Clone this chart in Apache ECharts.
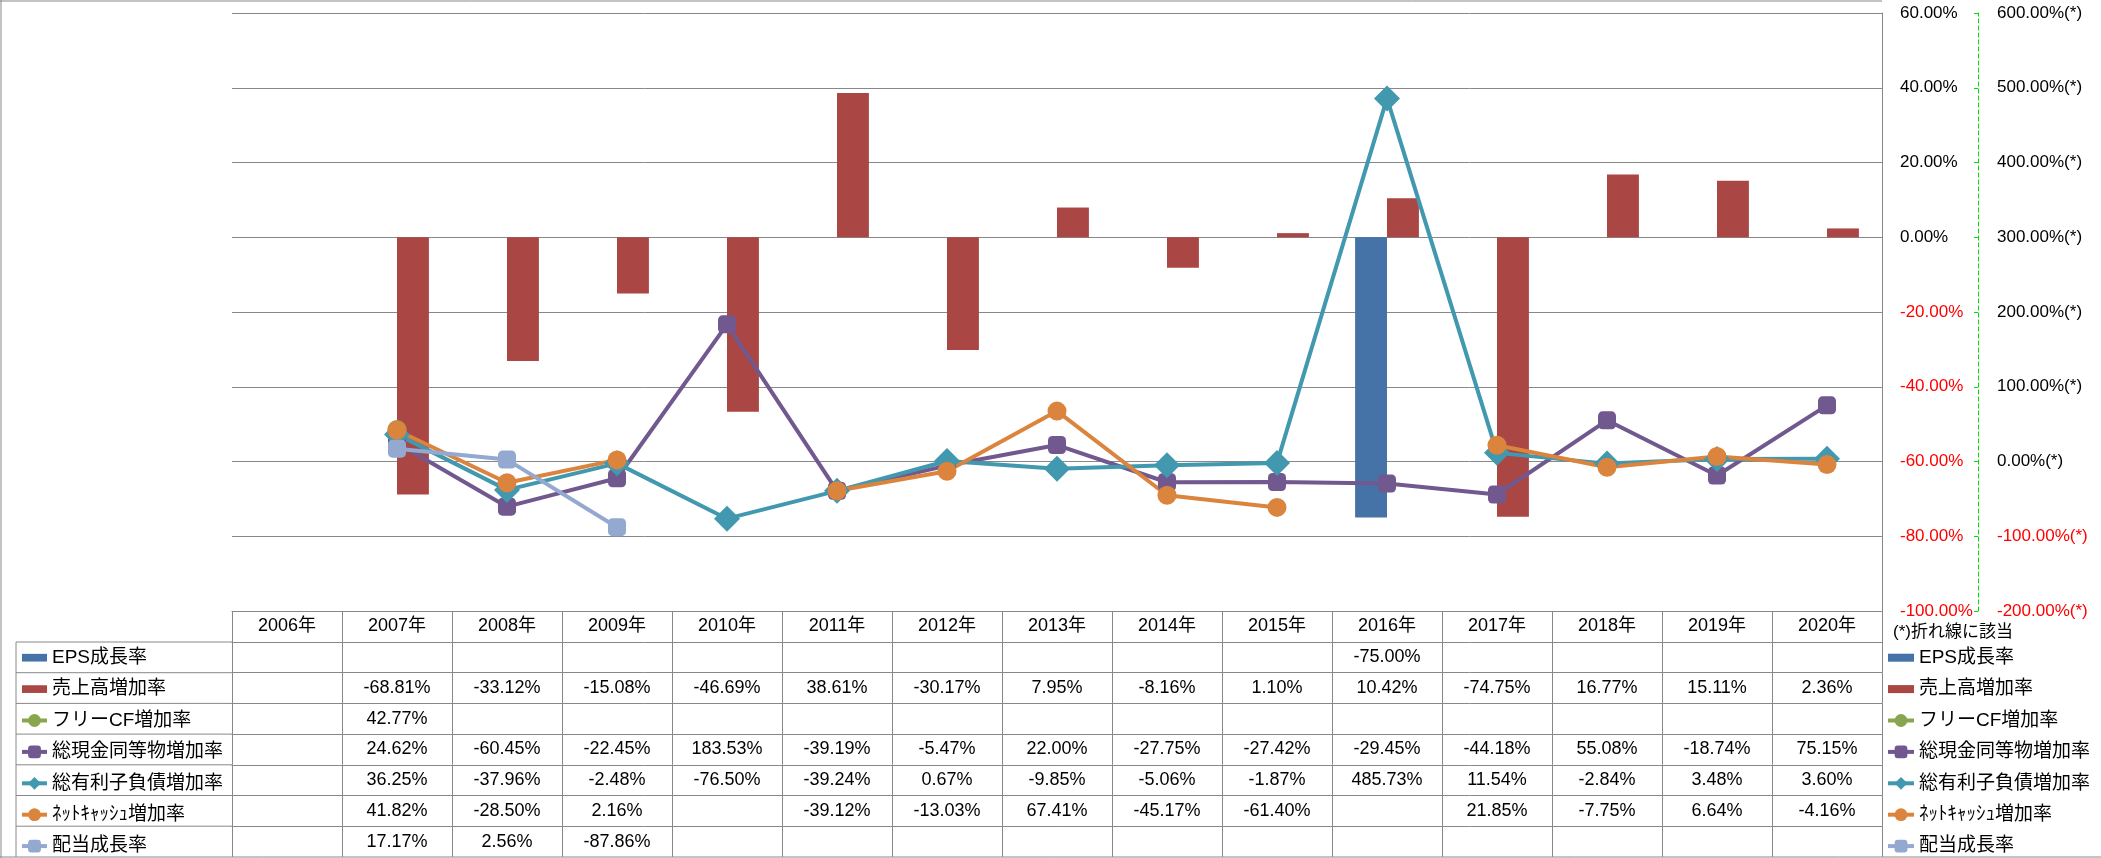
<!DOCTYPE html>
<html><head><meta charset="utf-8">
<script src="https://cdn.jsdelivr.net/npm/echarts@6/dist/echarts.min.js"></script>
<style>html,body{margin:0;padding:0;background:#fff}#c{width:2101px;height:858px}</style>
</head><body><div id="c"></div>
<script>
// ---- data ----
const years = ['2006年','2007年','2008年','2009年','2010年','2011年','2012年','2013年','2014年','2015年','2016年','2017年','2018年','2019年','2020年'];
const seriesNames = ['EPS成長率','売上高増加率','フリーCF増加率','総現金同等物増加率','総有利子負債増加率','ﾈｯﾄｷｬｯｼｭ増加率','配当成長率'];
const epsGrowth      = [null,null,null,null,null,null,null,null,null,null,-75.00,null,null,null,null];
const salesGrowth    = [null,-68.81,-33.12,-15.08,-46.69,38.61,-30.17,7.95,-8.16,1.10,10.42,-74.75,16.77,15.11,2.36];
const freeCfGrowth   = [null,42.77,null,null,null,null,null,null,null,null,null,null,null,null,null];
const cashGrowth     = [null,24.62,-60.45,-22.45,183.53,-39.19,-5.47,22.00,-27.75,-27.42,-29.45,-44.18,55.08,-18.74,75.15];
const debtGrowth     = [null,36.25,-37.96,-2.48,-76.50,-39.24,0.67,-9.85,-5.06,-1.87,485.73,11.54,-2.84,3.48,3.60];
const netCashGrowth  = [null,41.82,-28.50,2.16,null,-39.12,-13.03,67.41,-45.17,-61.40,null,21.85,-7.75,6.64,-4.16];
const dividendGrowth = [null,17.17,2.56,-87.86,null,null,null,null,null,null,null,null,null,null,null];
const leftAxisTicks  = {min:-100, max:60, interval:20};
const rightAxisTicks = {min:-200, max:600, interval:100};
const noteText = '(*)折れ線に該当';

// ---- styling ----
const FONT = "'Liberation Sans','Noto Sans CJK JP',sans-serif";
const colors = ['#4572A7','#AA4643','#89A54E','#71588F','#4198AF','#DB843D','#93A9CF'];
const symbols = [null,null,'circle','roundRect','diamond','circle','roundRect'];
const symbolSizes = [0,0,19,18,26,19,18];
const GRAY = '#888888';
const PLOT_L = 232, PLOT_R = 1882, PLOT_T = 13, PLOT_B = 611;
const HDR_H = 31, ROW_H = 30.7;
const rows = [epsGrowth, salesGrowth, freeCfGrowth, cashGrowth, debtGrowth, netCashGrowth, dividendGrowth];
const fmt = v => v == null ? '' : v.toFixed(2) + '%';

const xAxes = [{
  type:'category', data: years, position:'bottom', offset:0, boundaryGap:true,
  axisLine:{show:true, onZero:false, lineStyle:{color:GRAY, width:1}},
  axisTick:{show:true, interval:0, length:HDR_H, lineStyle:{color:GRAY, width:1}},
  axisLabel:{interval:0, margin:HDR_H/2, verticalAlign:'middle', fontSize:18, color:'#000', fontFamily:FONT},
  splitLine:{show:false}
}];
rows.forEach((r, i) => {
  xAxes.push({
    type:'category', data: r.map(fmt), position:'bottom', offset: HDR_H + i*ROW_H, boundaryGap:true,
    axisLine:{show:true, onZero:false, lineStyle:{color:GRAY, width:1}},
    axisTick:{show:true, interval:0, length:ROW_H, lineStyle:{color:GRAY, width:1}},
    axisLabel:{interval:0, margin:ROW_H/2, verticalAlign:'middle', fontSize:18, color:'#000', fontFamily:FONT},
    splitLine:{show:false}
  });
});

const series = rows.map((r, i) => {
  if (i < 2) {
    return {name: seriesNames[i], type:'bar', yAxisIndex:0, xAxisIndex:0, data:r,
      barGap:'0%', barCategoryGap:'42%', itemStyle:{color:colors[i]}};
  }
  return {name: seriesNames[i], type:'line', yAxisIndex:1, xAxisIndex:0, data:r,
    symbol:symbols[i], symbolSize:symbolSizes[i], showAllSymbol:true, connectNulls:false,
    lineStyle:{width:4, color:colors[i]}, itemStyle:{color:colors[i]}};
});

const barIcon = 'path://M0,0M0,4H26V12H0ZM26,16';
const legendData = seriesNames.map((n, i) => i < 2 ? {name:n, icon:barIcon} : {name:n});
const firstRowTop = PLOT_B + HDR_H;
const legendBase = {
  orient:'vertical', itemHeight:16, itemGap: ROW_H - 18.3, data: legendData, selectedMode:false,
  top: firstRowTop + ROW_H/2 - 9.15, height: 260, padding:0,
  lineStyle:{width:4},
  textStyle:{fontSize:19, fontFamily:FONT, color:'#000', lineHeight:14}
};

const graphicLines = [];
const addLine = (x1,y1,x2,y2) => graphicLines.push({type:'line', shape:{x1,y1,x2,y2}, style:{stroke:GRAY, lineWidth:1}, silent:true});
addLine(0,1,PLOT_R,1);
addLine(1,0,1,858);
addLine(0,857,2101,857);
addLine(16, firstRowTop, 16, 857);
for (let i = 0; i < rows.length; i++) addLine(16, firstRowTop + i*ROW_H, PLOT_L, firstRowTop + i*ROW_H);

const chart = echarts.init(document.getElementById('c'), null, {renderer:'canvas'});
chart.setOption({
  animation:false,
  backgroundColor:'#fff',
  textStyle:{fontFamily:FONT},
  title:{text: noteText, left:1893, top:624, padding:0, textStyle:{fontSize:17, fontWeight:'normal', color:'#000', fontFamily:FONT}},
  grid:{left:PLOT_L, right:2101-PLOT_R, top:PLOT_T, bottom:858-PLOT_B, containLabel:false},
  legend:[Object.assign({left:20, itemWidth:25}, legendBase), Object.assign({left:1886, itemWidth:26}, legendBase)],
  xAxis: xAxes,
  yAxis:[{
    type:'value', position:'right', min:leftAxisTicks.min, max:leftAxisTicks.max, interval:leftAxisTicks.interval,
    axisLine:{show:true, lineStyle:{color:GRAY, width:1}},
    axisTick:{show:false},
    splitLine:{show:true, lineStyle:{color:GRAY, width:1}},
    axisLabel:{margin:18, fontSize:17, fontFamily:FONT, formatter: v => v.toFixed(2)+'%', color: v => (+v < 0 ? '#FF0000' : '#000')}
  },{
    type:'value', position:'right', offset:96, min:rightAxisTicks.min, max:rightAxisTicks.max, interval:rightAxisTicks.interval,
    axisLine:{show:true, lineStyle:{color:'#00DD00', width:1, type:[4,3]}},
    axisTick:{show:true, inside:true, length:4, lineStyle:{color:'#00DD00', width:1}},
    splitLine:{show:false},
    axisLabel:{margin:19, fontSize:17, fontFamily:FONT, formatter: v => v.toFixed(2)+'%(*)', color: v => (+v < 0 ? '#FF0000' : '#000')}
  }],
  series: series,
  graphic: graphicLines
});
</script></body></html>
